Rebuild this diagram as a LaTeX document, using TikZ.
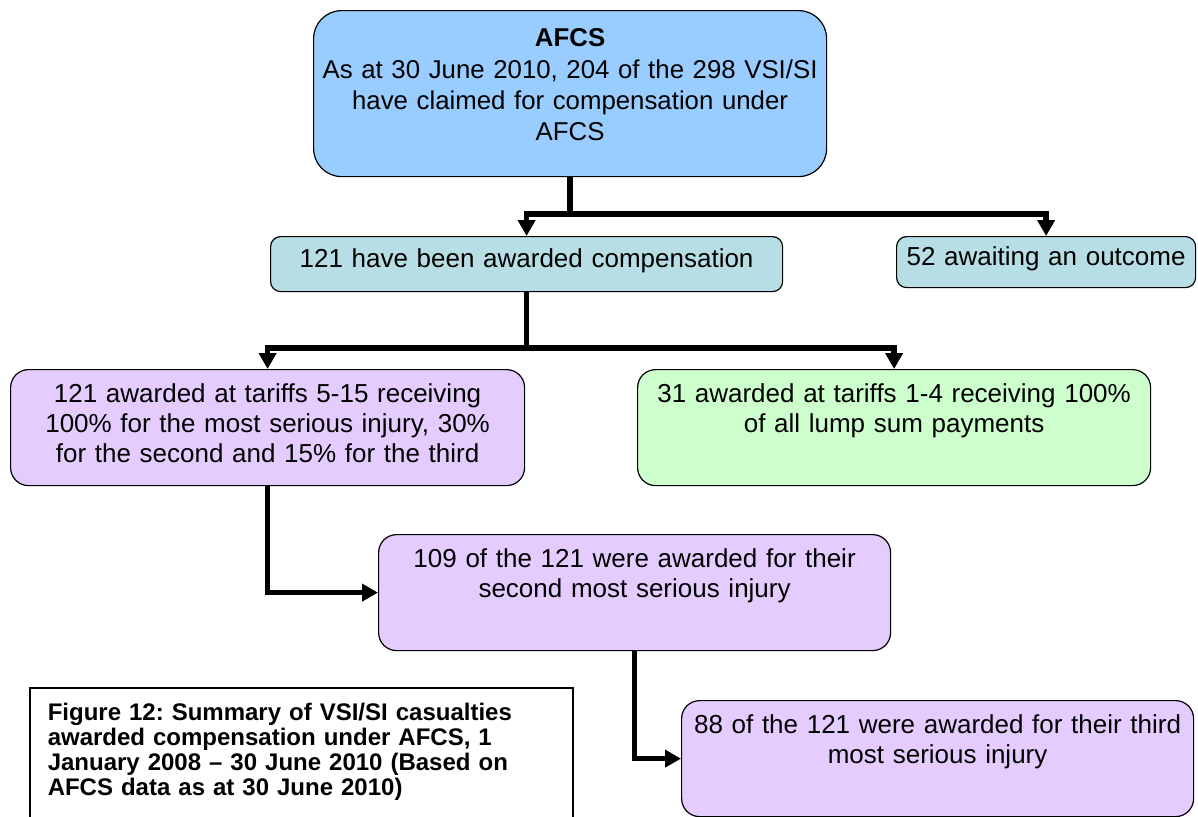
\documentclass[tikz,border=0pt]{standalone}
\usepackage{fontspec}
\setmainfont{Liberation Sans}
\usetikzlibrary{arrows.meta}
\definecolor{afcsblue}{RGB}{153,204,255}
\definecolor{awardteal}{RGB}{183,222,228}
\definecolor{tariffgreen}{RGB}{204,255,204}
\definecolor{tarifflilac}{RGB}{229,204,255}
\tikzset{>/.tip={Triangle[length=8pt,width=8.5pt]},
  box/.style={draw, line width=0.6pt, anchor=north west, inner sep=0pt, align=center, font=\fontsize{13}{15}\selectfont},
  bigbox/.style={box, rounded corners=9pt, text width=256.5pt, text height=16.5pt, text depth=41.5pt},
  smallbox/.style={box, rounded corners=5pt},
  link/.style={line width=2.75pt}}
\frenchspacing

\begin{document}
\begin{tikzpicture}[x=0.5pt, y=0.5pt]
\useasboundingbox (0,0) rectangle (1198,-816);
\node[box, fill=afcsblue, rounded corners=14pt, text width=256.5pt, text height=18pt, text depth=65pt, font=\fontsize{12.9}{15.7}\selectfont] (AFCS) at (313,-10) {\textbf{AFCS}\\As at 30 June 2010, 204 of the 298 VSI/SI\\have claimed for compensation under\\AFCS};

\node[smallbox, fill=awardteal, text width=256pt, text height=15.35pt, text depth=12.15pt] (awarded) at (270,-236) {121 have been awarded compensation};
\node[smallbox, fill=awardteal, text width=149.5pt, text height=14.5pt, text depth=11pt] (awaiting) at (896,-236) {52 awaiting an outcome};

\node[bigbox, fill=tarifflilac, text width=257pt] (tariff-5) at (10,-369) {121 awarded at tariffs 5-15 receiving\\100\% for the most serious injury, 30\%\\for the second and 15\% for the third};
\node[bigbox, fill=tariffgreen] (tariff-1) at (637,-369) {31 awarded at tariffs 1-4 receiving 100\%\\of all lump sum payments};
\node[bigbox, fill=tarifflilac, text width=256pt] (second) at (378,-534) {109 of the 121 were awarded for their\\second most serious injury};
\node[bigbox, fill=tarifflilac, text width=256pt] (third) at (681,-700) {88 of the 121 were awarded for their third\\most serious injury};

\node[draw, line width=0.75pt, anchor=north west, inner xsep=9pt, inner ysep=0pt, align=left, text width=253.5pt, text height=16.5pt, text depth=70pt, font=\bfseries\fontsize{12}{12.5}\selectfont] (caption) at (29,-687) {Figure 12: Summary of VSI/SI casualties\\awarded compensation under AFCS, 1\\January 2008 – 30 June 2010 (Based on\\AFCS data as at 30 June 2010)};

\draw[link] (AFCS.south) -- ++(0,-37) coordinate (split-1);
\draw[link,->] (split-1) -| (awarded.north);
\draw[link,->] (split-1) -| (awaiting.north);
\draw[link] (awarded.south) -- ++(0,-56) coordinate (split-2);
\draw[link,->] (split-2) -| (tariff-5.north);
\draw[link,->] (split-2) -| (tariff-1.north);
\draw[link,->] (tariff-5.south) |- (second.west);
\draw[link,->] (second.south) |- (third.west);
\end{tikzpicture}
\end{document}
